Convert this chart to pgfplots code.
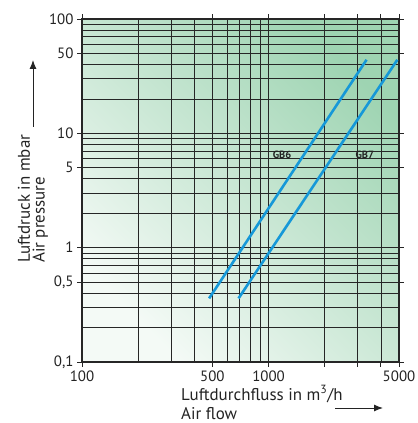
\documentclass[border=0pt]{standalone}
\usepackage{pgfplots}
\pgfplotsset{compat=1.18}
\usetikzlibrary{arrows.meta}
\usepackage{fontspec}
\setmainfont{PT Sans}
\definecolor{bgA}{RGB}{244,250,246}
\definecolor{bgB}{RGB}{158,212,178}
\definecolor{lineblue}{RGB}{22,152,216}
\definecolor{gridc}{RGB}{38,38,38}
\definecolor{txtc}{RGB}{35,35,35}
\begin{document}
\begin{tikzpicture}
\useasboundingbox (-82bp,-61bp) rectangle (336bp,362bp);
\begin{axis}[
  at={(0,0)}, anchor=south west,
  scale only axis, width=317bp, height=343bp,
  xmode=log, ymode=log,
  xmin=100, xmax=5000, ymin=0.1, ymax=100,
  axis background/.style={shade, bottom color=bgA, top color=bgB, shading angle=-45},
  xtick={200,300,400,500,600,700,800,900,1000,2000,3000,4000},
  ytick={0.2,0.3,0.4,0.5,0.6,0.7,0.8,0.9,1,2,3,4,5,6,7,8,9,10,20,30,40,50,60,70,80,90},
  xticklabels={}, yticklabels={},
  major tick length=0pt,
  grid=major,
  major grid style={draw=gridc, line width=0.8pt},
  extra x ticks={100,500,1000,2000,3000,4000,5000},
  extra x tick labels={100,500,1000,{},{},{},5000},
  extra y ticks={0.1,0.5,1,5,10,50,100},
  extra y tick labels={{0,1},{0,5},1,5,10,50,100},
  extra tick style={grid=none, major tick length=5bp, tick align=outside,
    tick style={draw=gridc, line width=1pt}},
  tick label style={font=\fontsize{15}{17}\selectfont, text=txtc},
  axis line style={draw=gridc, line width=1.2pt},
  clip=true,
]
\addplot[lineblue, line width=2.6pt] coordinates {(480,0.36) (3350,44)};
\addplot[lineblue, line width=2.6pt] coordinates {(690,0.36) (4900,44)};
\node[font=\bfseries\fontsize{10.5}{12}\selectfont, text=txtc] at (axis cs:1180,6.5) {GB6};
\node[font=\bfseries\fontsize{10.5}{12}\selectfont, text=txtc] at (axis cs:3280,6.5) {GB7};
\end{axis}
\begin{scope}[font=\fontsize{17}{19}\selectfont, text=txtc]
\node[rotate=90, anchor=base west, inner sep=0pt] at (-52bp,99bp) {Luftdruck in mbar};
\node[rotate=90, anchor=base west, inner sep=0pt] at (-37.5bp,99bp) {Air pressure};
\node[anchor=base west, inner sep=0pt] at (99bp,-38bp) {Luftdurchfluss in m\textsuperscript{3}/h};
\node[anchor=base west, inner sep=0pt] at (99bp,-57bp) {Air flow};
\end{scope}
\draw[txtc, line width=1pt, -{Latex[length=9bp,width=7bp]}] (-49bp,235bp) -- (-49bp,302bp);
\draw[txtc, line width=1pt, -{Latex[length=9bp,width=7bp]}] (253bp,-46bp) -- (301bp,-46bp);
\end{tikzpicture}
\end{document}
